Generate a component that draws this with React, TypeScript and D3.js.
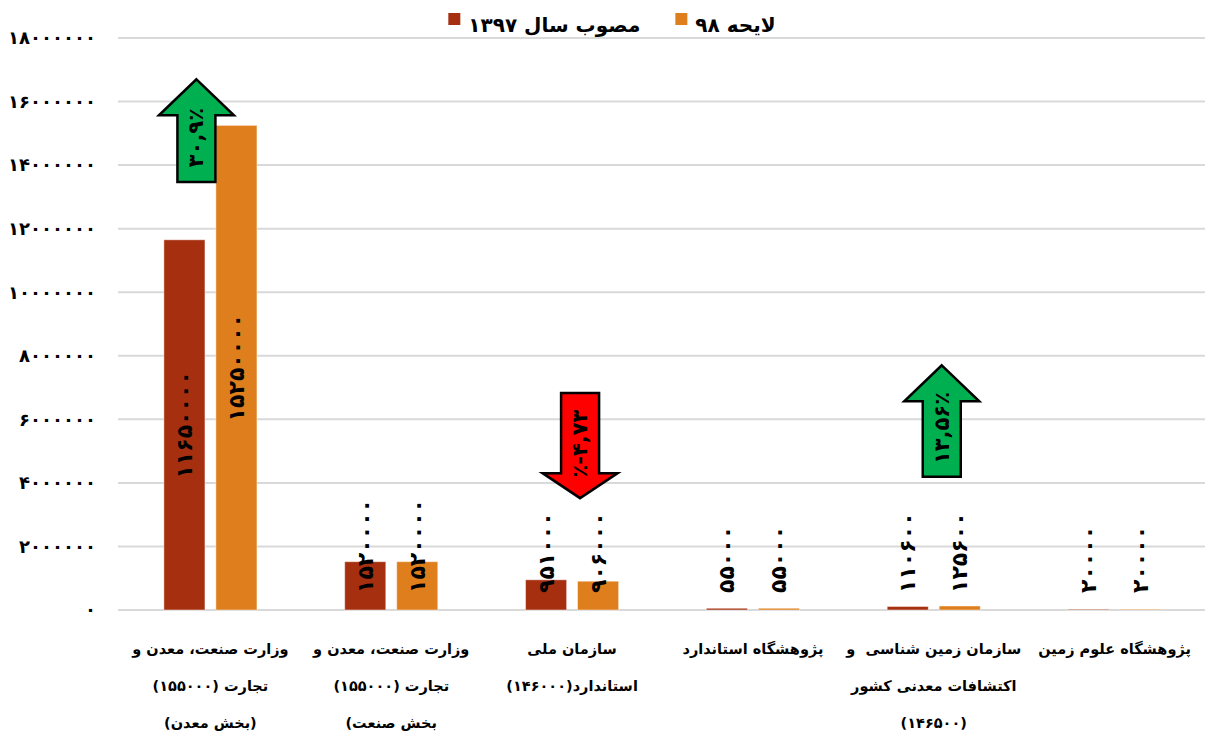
import React, { useRef, useEffect } from "react";
import * as d3 from "d3";

// داده‌ها
const categoryLines: string[][] = [
  ["وزارت صنعت، معدن و", "تجارت (۱۵۵۰۰۰)", "(بخش معدن)"],
  ["وزارت صنعت، معدن و", "تجارت (۱۵۵۰۰۰)", "(بخش صنعت"],
  ["سازمان ملی", "استاندارد(۱۴۶۰۰۰)"],
  ["پژوهشگاه استاندارد"],
  ["سازمان زمین شناسی  و", "اکتشافات معدنی کشور", "(۱۴۶۵۰۰)"],
  ["پژوهشگاه علوم زمین"],
];
const seriesNames = ["مصوب سال ۱۳۹۷", "لایحه ۹۸"];
const approved1397 = [11650000, 1520000, 951000, 55000, 110600, 20000];
const bill98 = [15250000, 1520000, 906000, 55000, 125600, 20000];
const yTicks = [0, 2000000, 4000000, 6000000, 8000000, 10000000, 12000000, 14000000, 16000000, 18000000];

// فلش‌های درصد تغییر
const changeCategory = [0, 2, 4];
const changeLabels = ["۳۰,۹٪", "٪-۴,۷۳", "۱۳,۵۶٪"];
const changeUp = [true, false, true];
const changeFrom = [13470000, 6830000, 4190000]; // ته فلش
const changeTo = [16700000, 3520000, 7700000]; // نوک فلش

const colors = ["#A52F0F", "#DF7E1C"];
const arrowOffset = [-14, 8, 8];
const FONT = "'DejaVu Sans', sans-serif";

const toFa = (v: number | string) =>
  String(v).replace(/[0-9]/g, (c) => "۰۱۲۳۴۵۶۷۸۹"[+c]);

const W = 1205;
const H = 738;

export default function App() {
  const svgRef = useRef<SVGSVGElement>(null);

  useEffect(() => {
    const svg = d3.select(svgRef.current);
    svg.selectAll("*").remove();

    const left = 120, right = W, top = 38, bottom = 610;
    const series = [approved1397, bill98];

    const x = d3.scaleBand<number>().domain(d3.range(categoryLines.length)).range([left, right]);
    const xSub = d3.scaleBand<number>().domain([0, 1]).range([0, x.bandwidth()])
      .paddingInner(0.21).paddingOuter(0.844);
    const y = d3.scaleLinear().domain([0, 18000000]).range([bottom, top]);

    // خطوط شبکه
    svg.append("g").selectAll("line").data(yTicks).join("line")
      .attr("x1", left - 2).attr("x2", right)
      .attr("y1", (d) => y(d)).attr("y2", (d) => y(d))
      .attr("stroke", "#d9d9d9").attr("stroke-width", 2);

    // برچسب محور عمودی
    svg.append("g").selectAll("text").data(yTicks).join("text")
      .attr("x", 96).attr("y", (d) => y(d)).attr("dy", "0.35em")
      .attr("text-anchor", "end")
      .style("font-family", FONT).style("font-weight", "bold").style("font-size", "18px")
      .text((d) => toFa(d));

    // میله‌ها
    series.forEach((vals, s) => {
      svg.append("g").selectAll("rect").data(vals).join("rect")
        .attr("x", (d, i) => (x(i) as number) + (xSub(s) as number))
        .attr("y", (d) => y(d))
        .attr("width", xSub.bandwidth())
        .attr("height", (d) => y(0) - y(d))
        .attr("fill", colors[s])
        .attr("stroke", "#ffffff").attr("stroke-opacity", 0.45).attr("stroke-width", 1);
    });

    // برچسب مقادیر
    series.forEach((vals, s) => {
      vals.forEach((v, i) => {
        const cx = (x(i) as number) + (xSub(s) as number) + xSub.bandwidth() / 2;
        const t = svg.append("text")
          .attr("text-anchor", "middle").attr("dominant-baseline", "central")
          .style("font-family", FONT).style("font-weight", "bold").style("font-size", "22px")
          .text(toFa(v));
        const len = (t.node() as SVGTextElement).getComputedTextLength();
        const cy = Math.min((y(v) + y(0)) / 2, y(0) - 17 - len / 2);
        t.attr("transform", `translate(${cx},${cy}) rotate(-90)`);
      });
    });

    // فلش‌ها
    changeCategory.forEach((c, k) => {
      const cx = (x(c) as number) + x.bandwidth() / 2 + arrowOffset[k];
      const yTip = y(changeTo[k]);
      const yEnd = y(changeFrom[k]);
      const dir = changeUp[k] ? 1 : -1;
      const hl = changeUp[k] ? 36 : 25;
      const hw = 75, sw = 38;
      const yb = yTip + dir * hl;
      const path = d3.path();
      path.moveTo(cx, yTip);
      path.lineTo(cx + hw / 2, yb);
      path.lineTo(cx + sw / 2, yb);
      path.lineTo(cx + sw / 2, yEnd);
      path.lineTo(cx - sw / 2, yEnd);
      path.lineTo(cx - sw / 2, yb);
      path.lineTo(cx - hw / 2, yb);
      path.closePath();
      svg.append("path").attr("d", path.toString())
        .attr("fill", changeUp[k] ? "#00B050" : "#FF0000")
        .attr("stroke", "#000").attr("stroke-width", 2.5).attr("stroke-linejoin", "miter");
      const ty = (yTip + yEnd) / 2 + (changeUp[k] ? 7 : -2);
      svg.append("text")
        .attr("transform", `translate(${cx},${ty}) rotate(-90)`)
        .attr("text-anchor", "middle").attr("dominant-baseline", "central")
        .style("font-family", FONT).style("font-weight", "bold").style("font-size", "21px")
        .style("letter-spacing", "1.5px")
        .text(changeLabels[k]);
    });

    // برچسب دسته‌ها
    categoryLines.forEach((lines, i) => {
      const cx = (x(i) as number) + x.bandwidth() / 2;
      lines.forEach((line, j) => {
        const ltr = line.startsWith("(") && !line.endsWith(")");
        svg.append("text")
          .attr("x", cx).attr("y", 654 + j * 37)
          .attr("text-anchor", "middle")
          .attr("direction", ltr ? "ltr" : "rtl")
          .style("white-space", "pre")
          .style("font-family", FONT).style("font-weight", "bold").style("font-size", "14.5px")
          .text(ltr ? "\u200E" + line : line);
      });
    });

    // راهنما
    const legend = svg.append("g");
    let lx = 0;
    seriesNames.forEach((name, s) => {
      legend.append("rect").attr("x", lx).attr("y", 13).attr("width", 12).attr("height", 12)
        .attr("fill", colors[s]);
      lx += 20;
      const t = legend.append("text")
        .attr("y", 32).attr("text-anchor", "middle").attr("direction", "rtl")
        .style("font-family", FONT).style("font-weight", "bold").style("font-size", "20px")
        .text(name);
      const len = (t.node() as SVGTextElement).getComputedTextLength();
      t.attr("x", lx + len / 2);
      lx += len + 35;
    });
    const legendW = lx - 35;
    legend.attr("transform", `translate(${612 - legendW / 2},0)`);
  }, []);

  return (
    <svg
      ref={svgRef}
      width={W}
      height={H}
      style={{ position: "absolute", left: 0, top: 0, background: "#fff" }}
    />
  );
}
